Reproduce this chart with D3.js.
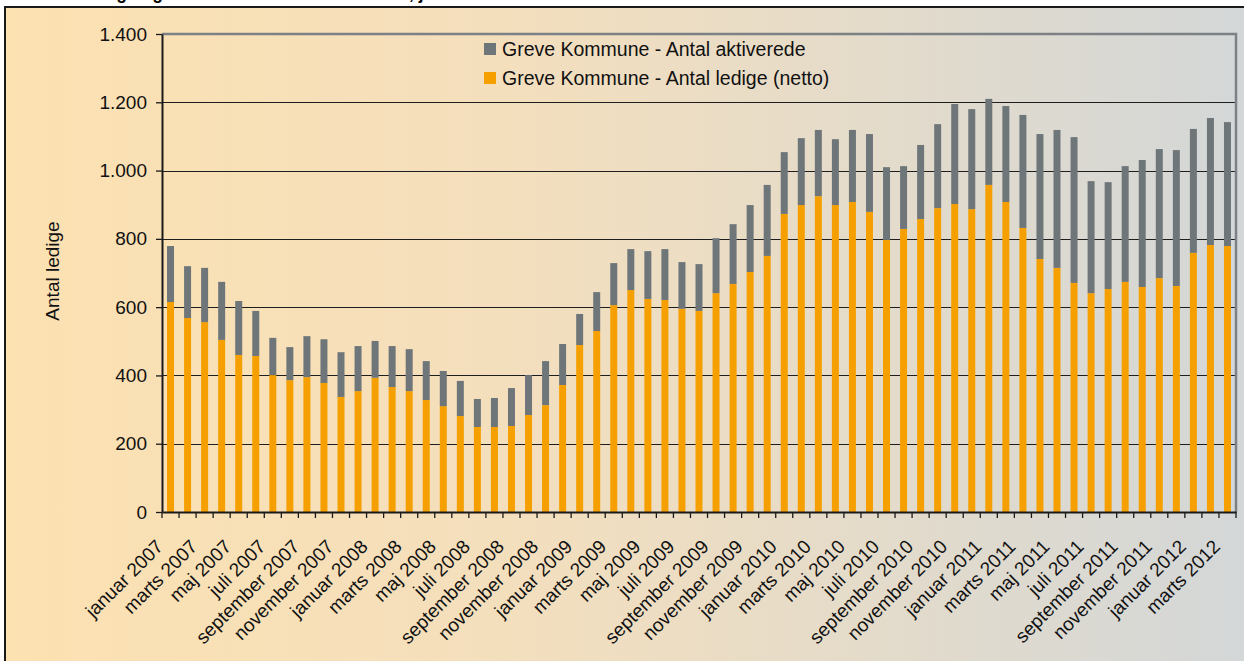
<!DOCTYPE html>
<html>
<head>
<meta charset="utf-8">
<script src="https://cdn.jsdelivr.net/npm/d3@7"></script>
<style>
  body { margin: 0; background: #fff; }
  svg { display: block; font-family: "Liberation Sans", Arial, sans-serif; }
</style>
</head>
<body>
<svg id="chart" width="1244" height="661"></svg>
<script>
// months jan 2007 - mar 2012
const months = ["januar", "februar", "marts", "april", "maj", "juni", "juli",
  "august", "september", "oktober", "november", "december"];
const years = [2007, 2008, 2009, 2010, 2011, 2012];
const categories = [];
years.forEach(yr => months.forEach(m => categories.push(m + " " + yr)));
categories.length = 63;

// Greve Kommune - Antal ledige (netto)
const ledige = [615, 568, 556, 504, 460, 457, 401, 386, 395, 378, 337, 354,
  393, 366, 354, 328, 310, 281, 249, 249, 252, 284, 313, 372,
  489, 530, 606, 650, 624, 621, 595, 589, 641, 668, 703, 750,
  873, 899, 925, 899, 908, 879, 797, 829, 858, 890, 902, 887,
  958, 908, 832, 741, 715, 671, 641, 653, 674, 659, 685, 662,
  759, 782, 779];

// Greve Kommune - Antal aktiverede
const aktiverede = [164, 152, 159, 170, 158, 132, 109, 97, 120, 128, 131, 132,
  108, 120, 123, 114, 103, 103, 82, 85, 111, 117, 129, 120,
  91, 114, 123, 120, 140, 149, 137, 137, 161, 175, 196, 208,
  181, 196, 194, 193, 211, 228, 213, 184, 217, 246, 293, 293,
  252, 281, 331, 366, 404, 427, 328, 313, 339, 372, 378, 398,
  363, 372, 363];

const yTicks = [0, 200, 400, 600, 800, 1000, 1200, 1400];

const seriesNames = {
  aktiverede: "Greve Kommune - Antal aktiverede",
  ledige: "Greve Kommune - Antal ledige (netto)"
};
const colors = { ledige: "#f5a000", aktiverede: "#6f767a" };

const svg = d3.select("#chart");
const plotLeft = 162, plotRight = 1236, plotTop = 34, plotBottom = 512;

// frame with gradient
const defs = svg.append("defs");
const grad = defs.append("linearGradient").attr("id", "bg")
  .attr("x1", "0%").attr("x2", "100%").attr("y1", "0%").attr("y2", "0%");
grad.append("stop").attr("offset", "0%").attr("stop-color", "#fce1b1");
grad.append("stop").attr("offset", "40%").attr("stop-color", "#f4dfbd");
grad.append("stop").attr("offset", "100%").attr("stop-color", "#d3d7d8");

svg.append("rect")
  .attr("x", 5).attr("y", 7).attr("width", 1250).attr("height", 670)
  .attr("fill", "url(#bg)").attr("stroke", "#1a1a1a").attr("stroke-width", 2);

// title, cut off at the top like in the source image
svg.append("text")
  .attr("x", 18).attr("y", -1)
  .style("font-weight", "bold").style("font-size", "17.5px")
  .text("Fuldtidsledige og aktiverede i Greve Kommune, januar 2007 - marts 2012");

const data = categories.map((c, i) => ({ cat: c, ledige: ledige[i], aktiverede: aktiverede[i] }));

const x = d3.scaleBand().domain(categories).range([plotLeft, plotRight]).padding(0);
const y = d3.scaleLinear().domain([0, 1400]).range([plotBottom, plotTop]);

const dk = d3.formatLocale({ decimal: ",", thousands: ".", grouping: [3], currency: ["", " kr"] });

// gridlines
svg.append("g")
  .selectAll("line")
  .data(yTicks.filter(d => d > 0 && d < 1400))
  .join("line")
  .attr("x1", plotLeft).attr("x2", plotRight)
  .attr("y1", d => Math.round(y(d)) + 0.5).attr("y2", d => Math.round(y(d)) + 0.5)
  .attr("stroke", "#1e1e1e").attr("stroke-width", 1.2);

// plot border top/right
svg.append("path")
  .attr("d", `M${plotLeft},${y(1400)}H${plotRight}V${plotBottom}`)
  .attr("fill", "none").attr("stroke", "#7b8185").attr("stroke-width", 2.5);

// stacked bars
const stack = d3.stack().keys(["ledige", "aktiverede"]);
const series = stack(data);
const bw = x.bandwidth() * 0.41;

svg.append("g")
  .selectAll("g")
  .data(series)
  .join("g")
  .attr("fill", s => colors[s.key])
  .selectAll("rect")
  .data(s => s)
  .join("rect")
  .attr("x", d => x(d.data.cat) + (x.bandwidth() - bw) / 2)
  .attr("y", d => y(d[1]))
  .attr("width", bw)
  .attr("height", d => y(d[0]) - y(d[1]));

// y axis
const yAxis = svg.append("g")
  .attr("transform", `translate(${plotLeft},0)`)
  .call(d3.axisLeft(y).tickValues(yTicks).tickFormat(dk.format(",")).tickSize(6).tickSizeOuter(0).tickPadding(9));
yAxis.select(".domain").attr("stroke", "#1a1a1a").attr("stroke-width", 2);
yAxis.selectAll(".tick line").attr("stroke", "#1a1a1a").attr("stroke-width", 1.3);
yAxis.selectAll("text").style("font-size", "19px").attr("fill", "#111");

// x axis: labels every second month, ticks at category boundaries
const xAxis = svg.append("g")
  .attr("transform", `translate(0,${plotBottom})`)
  .call(d3.axisBottom(x).tickSize(0).tickSizeOuter(0)
    .tickFormat((d, i) => i % 2 === 0 ? d : ""));
xAxis.select(".domain").attr("stroke", "#1a1a1a").attr("stroke-width", 2);
xAxis.selectAll("text")
  .style("font-size", "19px").attr("fill", "#111")
  .style("text-anchor", "end")
  .attr("dy", "0.35em")
  .attr("transform", "translate(-13,29)rotate(-45)");

xAxis.append("g")
  .selectAll("line")
  .data(categories.concat(["end"]))
  .join("line")
  .attr("x1", (d, i) => i < categories.length ? x(d) : plotRight)
  .attr("x2", (d, i) => i < categories.length ? x(d) : plotRight)
  .attr("y1", 0).attr("y2", 6)
  .attr("stroke", "#1a1a1a").attr("stroke-width", 1.3);

// y axis title
svg.append("text")
  .attr("transform", "translate(59,271)rotate(-90)")
  .attr("text-anchor", "middle")
  .style("font-size", "19px").attr("fill", "#111")
  .text("Antal ledige");

// legend
const legendKeys = ["aktiverede", "ledige"];
const legend = svg.append("g").attr("transform", "translate(484,43)");
legendKeys.forEach((k, i) => {
  const row = legend.append("g").attr("transform", `translate(0,${i * 29})`);
  row.append("rect").attr("width", 12).attr("height", 12).attr("fill", colors[k]);
  row.append("text").attr("x", 18).attr("y", 13)
    .style("font-size", "19.5px").attr("fill", "#111")
    .text(seriesNames[k]);
});
</script>
</body>
</html>
